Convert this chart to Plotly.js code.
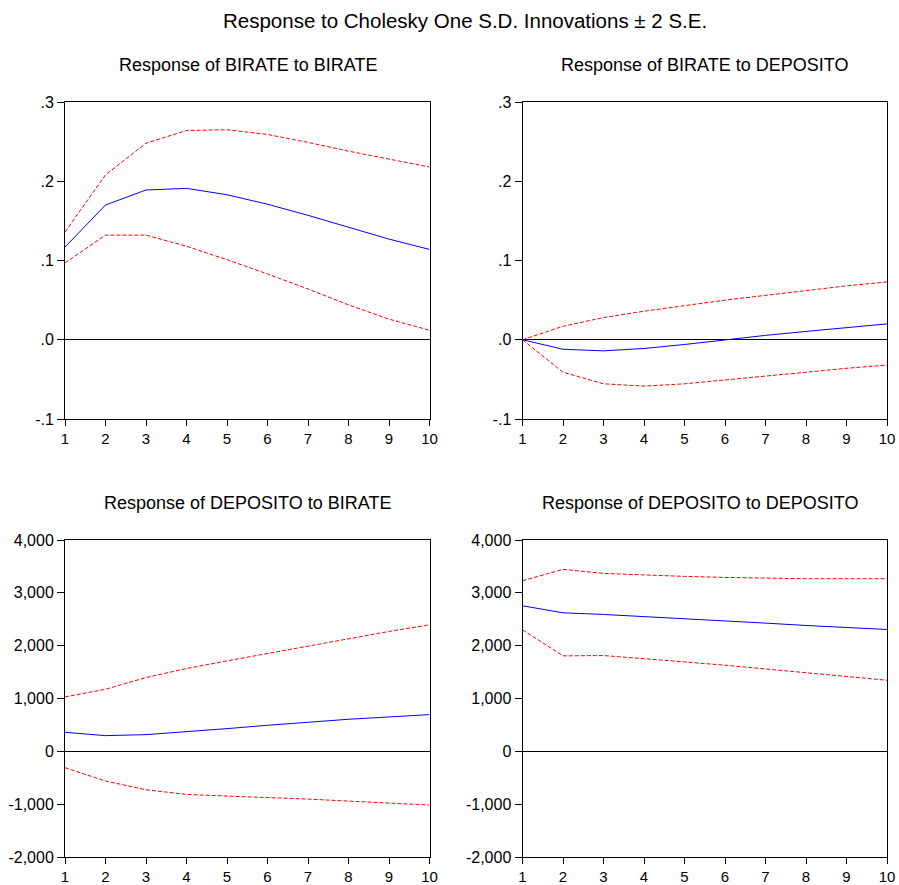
<!DOCTYPE html>
<html><head><meta charset="utf-8">
<script src="https://cdn.plot.ly/plotly-3.0.1.min.js"></script>
<style>body{margin:0;padding:0;background:#fff}#c{width:899px;height:885px}</style>
</head><body><div id="c"></div>
<script>
const periods = [1,2,3,4,5,6,7,8,9,10];

// Response of BIRATE to BIRATE
const bb_resp  = [0.117,0.170,0.189,0.191,0.183,0.171,0.157,0.142,0.127,0.114];
const bb_upper = [0.136,0.208,0.248,0.264,0.265,0.259,0.249,0.238,0.228,0.218];
const bb_lower = [0.097,0.132,0.132,0.118,0.101,0.083,0.064,0.044,0.026,0.012];

// Response of BIRATE to DEPOSITO
const bd_resp  = [0.0,-0.012,-0.014,-0.011,-0.006,0.0,0.0055,0.0105,0.0156,0.020];
const bd_upper = [0.0,0.017,0.028,0.036,0.043,0.050,0.056,0.062,0.068,0.073];
const bd_lower = [0.0,-0.041,-0.0556,-0.0585,-0.0556,-0.051,-0.0455,-0.041,-0.036,-0.032];

// Response of DEPOSITO to BIRATE
const db_resp  = [360,297,316,366,430,493,556,607,651,695];
const db_upper = [1030,1175,1397,1567,1712,1852,1997,2136,2269,2395];
const db_lower = [-310,-562,-727,-815,-847,-872,-904,-942,-980,-1017];

// Response of DEPOSITO to DEPOSITO
const dd_resp  = [2755,2622,2591,2553,2515,2471,2427,2382,2344,2306];
const dd_upper = [3229,3444,3368,3336,3311,3292,3273,3267,3267,3267];
const dd_lower = [2300,1807,1813,1757,1693,1630,1561,1491,1422,1346];

const smallTickVals = [-0.1,0,0.1,0.2,0.3];
const smallTickText = ["-.1",".0",".1",".2",".3"];
const bigTickVals = [-2000,-1000,0,1000,2000,3000,4000];
const bigTickText = ["-2,000","-1,000","0","1,000","2,000","3,000","4,000"];

const mainTitle = "Response to Cholesky One S.D. Innovations \u00b1 2 S.E.";
const panelTitles = ["Response of BIRATE to BIRATE","Response of BIRATE to DEPOSITO",
                     "Response of DEPOSITO to BIRATE","Response of DEPOSITO to DEPOSITO"];

const FONT = "'Liberation Sans', Arial, sans-serif";

const panels = [
  {r:bb_resp,u:bb_upper,l:bb_lower,xa:'x',ya:'y'},
  {r:bd_resp,u:bd_upper,l:bd_lower,xa:'x2',ya:'y2'},
  {r:db_resp,u:db_upper,l:db_lower,xa:'x3',ya:'y3'},
  {r:dd_resp,u:dd_upper,l:dd_lower,xa:'x4',ya:'y4'}
];

const traces = [];
panels.forEach(p=>{
  traces.push({x:periods,y:p.u,xaxis:p.xa,yaxis:p.ya,mode:'lines',line:{color:'#ff0000',width:1,dash:'4px,2px'},hoverinfo:'skip'});
  traces.push({x:periods,y:p.l,xaxis:p.xa,yaxis:p.ya,mode:'lines',line:{color:'#ff0000',width:1,dash:'4px,2px'},hoverinfo:'skip'});
  traces.push({x:periods,y:p.r,xaxis:p.xa,yaxis:p.ya,mode:'lines',line:{color:'#0000ff',width:1},hoverinfo:'skip'});
});

const W=899,H=885;
const colX = [[65,429.5],[522.5,887]];
const rowY = [[102,419],[540,857]];
function xd(c){return [colX[c][0]/W, colX[c][1]/W];}
function yd(r){return [1-rowY[r][1]/H, 1-rowY[r][0]/H];}

function xaxis(c,anchor){
  return {domain:xd(c),anchor:anchor,range:[1,10],tickvals:periods,ticktext:periods.map(String),
    showline:true,mirror:true,linecolor:'#000',linewidth:1,ticks:'outside',ticklen:6,tickcolor:'#000',
    showgrid:false,zeroline:false,tickfont:{family:FONT,size:15,color:'#000'},fixedrange:true};
}
function yaxis(r,anchor,big){
  return {domain:yd(r),anchor:anchor,range:big?[-2000,4000]:[-0.1,0.3],
    tickvals:big?bigTickVals:smallTickVals,ticktext:big?bigTickText:smallTickText,
    showline:true,mirror:true,linecolor:'#000',linewidth:1,ticks:'outside',ticklen:7,tickcolor:'#000',
    showgrid:false,zeroline:true,zerolinecolor:'#000',zerolinewidth:1,
    tickfont:{family:FONT,size:16,color:'#000'},fixedrange:true};
}

const annotations = [
  {text:mainTitle,x:465/W,xref:'paper',y:1-20/H,yref:'paper',showarrow:false,xanchor:'center',yanchor:'middle',font:{family:FONT,size:20.5,color:'#000'}},
];
const centers = [[247.5,65],[704.5,65],[247,503],[700,503]];
panelTitles.forEach((t,i)=>{
  annotations.push({text:t,x:centers[i][0]/W,xref:'paper',y:1-centers[i][1]/H,yref:'paper',showarrow:false,xanchor:'center',yanchor:'middle',font:{family:FONT,size:18,color:'#000'}});
});

const layout = {
  width:W,height:H,margin:{l:0,r:0,t:0,b:0},paper_bgcolor:'#fff',plot_bgcolor:'#fff',showlegend:false,
  xaxis:xaxis(0,'y'),yaxis:yaxis(0,'x',false),
  xaxis2:xaxis(1,'y2'),yaxis2:yaxis(0,'x2',false),
  xaxis3:xaxis(0,'y3'),yaxis3:yaxis(1,'x3',true),
  xaxis4:xaxis(1,'y4'),yaxis4:yaxis(1,'x4',true),
  annotations:annotations
};
Plotly.newPlot('c',traces,layout,{staticPlot:true,displayModeBar:false});
</script></body></html>
